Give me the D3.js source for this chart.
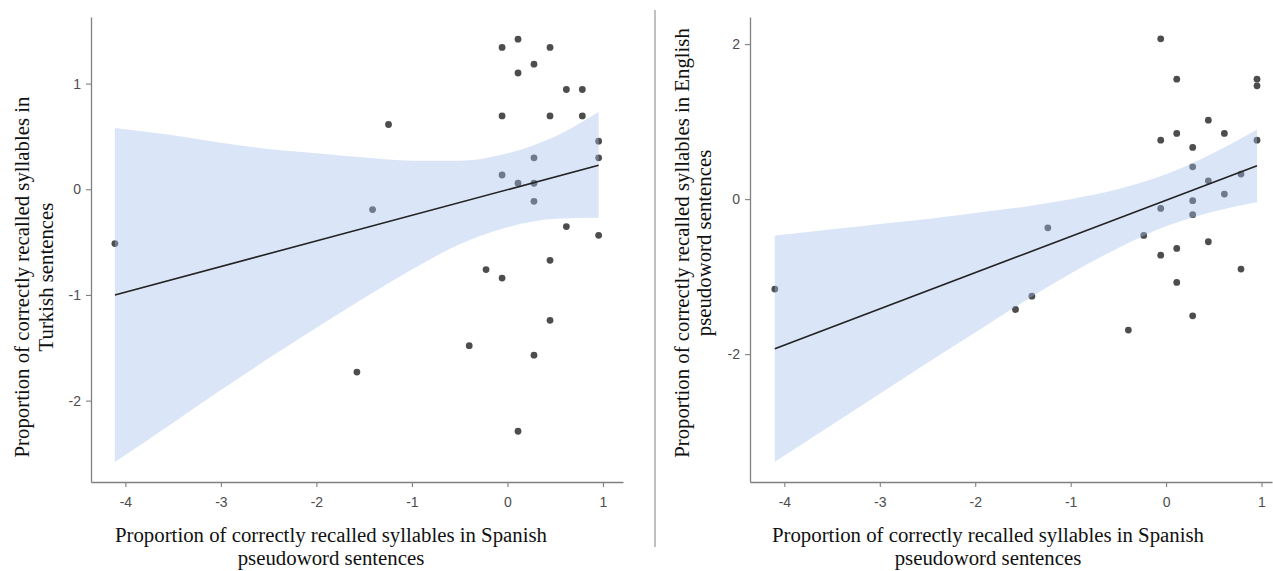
<!DOCTYPE html>
<html>
<head>
<meta charset="utf-8">
<script src="https://cdn.jsdelivr.net/npm/d3@7"></script>
<style>
  html, body { margin: 0; padding: 0; background: #fff; }
  svg { display: block; }
</style>
</head>
<body>
<div id="chart"></div>
<script>
// standardised scores
const spanishL = [-0.056, 0.111, 0.446, 0.278, 0.111, 0.617, 0.784, -0.056, 0.446, 0.784,
  -1.245, 0.955, 0.955, 0.278, -0.056, 0.111, 0.278, 0.278, -1.412, 0.617,
  0.955, 0.446, -0.224, -0.056, 0.446, -0.40, 0.278, -1.576, 0.111, -4.11];
const turkish = [1.342, 1.42, 1.342, 1.184, 1.10, 0.944, 0.944, 0.694, 0.694, 0.694,
  0.613, 0.455, 0.297, 0.297, 0.135, 0.057, 0.057, -0.114, -0.192, -0.353,
  -0.436, -0.672, -0.760, -0.84, -1.24, -1.48, -1.57, -1.73, -2.29, -0.514];

const spanishR = [-0.056, 0.112, 0.953, 0.953, 0.443, 0.112, 0.611, -0.056, 0.953, 0.279,
  0.279, 0.443, 0.785, 0.611, 0.279, -0.056, 0.279, -1.239, -0.234, 0.443,
  0.112, -0.056, 0.785, 0.112, -1.406, -1.578, 0.279, -0.395, -4.10];
const english = [2.068, 1.548, 1.548, 1.462, 1.019, 0.848, 0.848, 0.761, 0.761, 0.667,
  0.417, 0.236, 0.323, 0.065, -0.02, -0.12, -0.2, -0.37, -0.469, -0.55,
  -0.636, -0.723, -0.903, -1.075, -1.252, -1.424, -1.506, -1.69, -1.161];

// fitted lines and their 95% bands
const fitXL = [-4.11, 0.955];
const fitYL = [-1.00, 0.227];
const bandXL = [-4.11, -3.5, -3.0, -2.5, -2.0, -1.5, -1.0, -0.5, 0, 0.5, 0.955];
const bandLoL = [-2.58, -2.21, -1.90, -1.60, -1.31, -1.03, -0.76, -0.52, -0.36, -0.28, -0.27];
const bandHiL = [0.58, 0.51, 0.44, 0.38, 0.34, 0.30, 0.27, 0.27, 0.34, 0.50, 0.73];

const fitXR = [-4.10, 0.953];
const fitYR = [-1.93, 0.43];
const bandXR = [-4.10, -3.5, -3.0, -2.5, -2.0, -1.5, -1.0, -0.5, 0, 0.5, 0.953];
const bandLoR = [-3.39, -2.91, -2.51, -2.11, -1.72, -1.33, -0.96, -0.63, -0.35, -0.16, -0.04];
const bandHiR = [-0.47, -0.39, -0.32, -0.255, -0.18, -0.10, 0.0, 0.13, 0.32, 0.60, 0.90];

const xTicks = [-4, -3, -2, -1, 0, 1];
const yTicksL = [-2, -1, 0, 1];
const yTicksR = [-2, 0, 2];

const xTitle = ['Proportion of correctly recalled syllables in Spanish', 'pseudoword sentences'];
const yTitleL = ['Proportion of correctly recalled syllables in', 'Turkish sentences'];
const yTitleR = ['Proportion of correctly recalled syllables in English', 'pseudoword sentences'];

const CFG = {
  width: 1273,
  height: 571,
  top: 17,
  bottom: 482,
  tickSize: 5,
  tickFont: 14,
  titleFont: 20.8,
  sansFamily: '"Liberation Sans", Arial, Helvetica, sans-serif',
  serifFamily: '"Liberation Serif", "Times New Roman", Times, serif',
  axisColor: '#808080',
  tickTextColor: '#4d4d4d',
  pointColor: '#4d4d4d',
  bandColor: '#a3c1ea',
  bandOpacity: 0.4,
  lineColor: '#222',
};

// plain hyphen for negatives, like the original
const tickFmt = d => String(d);

const svg = d3.select('#chart')
  .append('svg')
  .attr('width', CFG.width)
  .attr('height', CFG.height);

svg.append('rect')
  .attr('width', CFG.width).attr('height', CFG.height)
  .attr('fill', '#fff');

const panels = [
  {
    xs: spanishL, ys: turkish,
    fitX: fitXL, fitY: fitYL,
    bandX: bandXL, bandLo: bandLoL, bandHi: bandHiL,
    xDomain: [-4.36, 1.21], left: 91, right: 623,
    yDomain: [-2.77, 1.63], yTicks: yTicksL,
    xTitleX: 331, yTitle: yTitleL, yTitleY: 277, yTitleBase: [29, 53],
  },
  {
    xs: spanishR, ys: english,
    fitX: fitXR, fitY: fitYR,
    bandX: bandXR, bandLo: bandLoR, bandHi: bandHiR,
    xDomain: [-4.36, 1.11], left: 750, right: 1272,
    yDomain: [-3.65, 2.35], yTicks: yTicksR,
    xTitleX: 988, yTitle: yTitleR, yTitleY: 243, yTitleBase: [689, 711],
  },
];

function styleAxis(g) {
  g.select('.domain').attr('stroke', CFG.axisColor).attr('stroke-width', 1.3);
  g.selectAll('.tick line').attr('stroke', CFG.axisColor).attr('stroke-width', 1.1);
  g.selectAll('.tick text')
    .attr('fill', CFG.tickTextColor)
    .attr('font-size', CFG.tickFont)
    .attr('font-family', CFG.sansFamily);
}

function drawPanel(p) {
  const x = d3.scaleLinear().domain(p.xDomain).range([p.left, p.right]);
  const y = d3.scaleLinear().domain(p.yDomain).range([CFG.bottom, CFG.top]);
  const g = svg.append('g');

  // points go first; the band is painted over them, as ggplot does
  g.append('g').selectAll('circle')
    .data(d3.zip(p.xs, p.ys))
    .join('circle')
    .attr('cx', d => x(d[0]))
    .attr('cy', d => y(d[1]))
    .attr('r', 3.4)
    .attr('fill', CFG.pointColor);

  const area = d3.area()
    .x(d => x(d[0]))
    .y0(d => y(d[1]))
    .y1(d => y(d[2]))
    .curve(d3.curveMonotoneX);
  g.append('path')
    .datum(d3.zip(p.bandX, p.bandLo, p.bandHi))
    .attr('d', area)
    .attr('fill', CFG.bandColor)
    .attr('fill-opacity', CFG.bandOpacity);

  const line = d3.line().x(d => x(d[0])).y(d => y(d[1]));
  g.append('path')
    .datum(d3.zip(p.fitX, p.fitY))
    .attr('d', line)
    .attr('fill', 'none')
    .attr('stroke', CFG.lineColor)
    .attr('stroke-width', 1.6);

  // axes
  g.append('g')
    .attr('transform', `translate(0,${CFG.bottom})`)
    .call(d3.axisBottom(x).tickValues(xTicks).tickFormat(tickFmt)
      .tickSize(CFG.tickSize).tickSizeOuter(0).tickPadding(10))
    .call(styleAxis);

  g.append('g')
    .attr('transform', `translate(${p.left},0)`)
    .call(d3.axisLeft(y).tickValues(p.yTicks).tickFormat(tickFmt)
      .tickSize(CFG.tickSize).tickSizeOuter(0).tickPadding(5))
    .call(styleAxis);

  // x title, two lines
  xTitle.forEach((t, i) => {
    g.append('text')
      .attr('x', p.xTitleX).attr('y', 542 + i * 23)
      .attr('text-anchor', 'middle')
      .attr('font-size', CFG.titleFont)
      .attr('font-family', CFG.serifFamily)
      .attr('fill', '#111')
      .text(t);
  });

  // y title, rotated
  p.yTitle.forEach((t, i) => {
    g.append('text')
      .attr('transform', `translate(${p.yTitleBase[i]},${p.yTitleY}) rotate(-90)`)
      .attr('text-anchor', 'middle')
      .attr('font-size', CFG.titleFont)
      .attr('font-family', CFG.serifFamily)
      .attr('fill', '#111')
      .text(t);
  });
}

panels.forEach(drawPanel);

// thin rule between the two plots
svg.append('line')
  .attr('x1', 655).attr('x2', 655)
  .attr('y1', 10).attr('y2', 547)
  .attr('stroke', CFG.axisColor)
  .attr('stroke-width', 1);
</script>
</body>
</html>
